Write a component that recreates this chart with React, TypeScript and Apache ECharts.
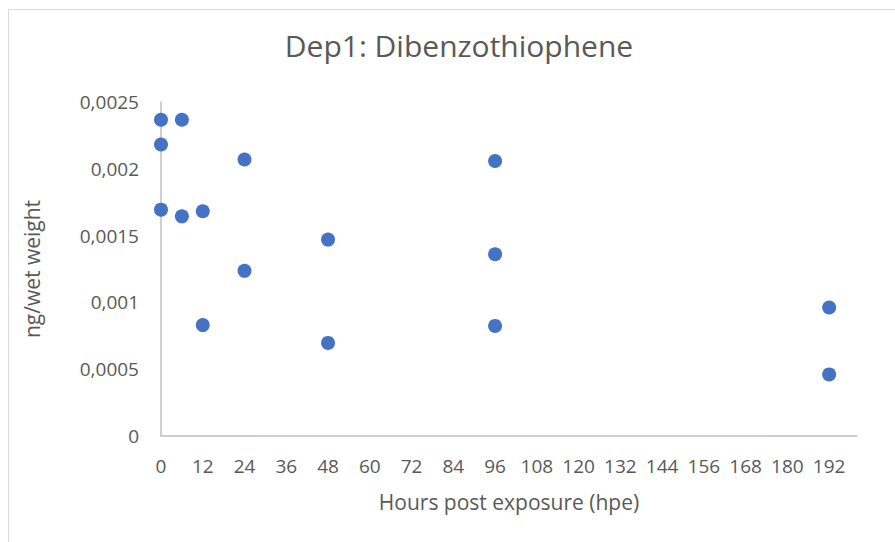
import React, { useEffect, useRef } from "react";
import * as echarts from "echarts";

const hours = [0, 0, 0, 6, 6, 12, 12, 24, 24, 48, 48, 96, 96, 96, 192, 192];
const values = [
  0.002367, 0.002182, 0.001694, 0.002367, 0.001644, 0.001682, 0.00083, 0.00207, 0.001236,
  0.00147, 0.000697, 0.002058, 0.00136, 0.000824, 0.000962, 0.000461,
];
const xTicks = [0, 12, 24, 36, 48, 60, 72, 84, 96, 108, 120, 132, 144, 156, 168, 180, 192];
const yTicks = [0, 0.0005, 0.001, 0.0015, 0.002, 0.0025];

const TITLE = "Dep1: Dibenzothiophene";
const X_NAME = "Hours post exposure (hpe)";
const Y_NAME = "ng/wet weight";

const FONT = "'Open Sans', sans-serif";
const TEXT = "#595959";

export default function App() {
  const ref = useRef<HTMLDivElement>(null);
  useEffect(() => {
    if (!ref.current) return;
    const chart = echarts.init(ref.current, null, { renderer: "svg" });
    const data = hours.map((h, i) => [h, values[i]]);
    chart.setOption({
      animation: false,
      backgroundColor: "#ffffff",
      textStyle: { fontFamily: FONT },
      title: {
        text: TITLE,
        left: 454,
        top: 25,
        textAlign: "center",
        textStyle: { fontFamily: FONT, fontSize: 30, fontWeight: "normal", color: TEXT },
      },
      graphic: [
        {
          type: "rect",
          shape: { x: 8.5, y: 9.5, width: 1000, height: 1000 },
          style: { fill: "none", stroke: "#d9d9d9", lineWidth: 1 },
          silent: true,
        },
      ],
      grid: { left: 161, right: 38, top: 102, bottom: 106, containLabel: false },
      xAxis: {
        type: "value",
        min: 0,
        max: 200,
        interval: 12,
        name: X_NAME,
        nameLocation: "middle",
        nameGap: 55,
        nameTextStyle: { fontFamily: FONT, fontSize: 21, color: TEXT },
        axisLine: { show: true, lineStyle: { color: "#bfbfbf", width: 1.5 } },
        axisTick: { show: false },
        splitLine: { show: false },
        axisLabel: {
          fontFamily: FONT,
          fontSize: 19,
          color: TEXT,
          margin: 20,
          showMaxLabel: false,
          formatter: (v: number) => (xTicks.includes(v) ? String(v) : ""),
        },
      },
      yAxis: {
        type: "value",
        min: 0,
        max: 0.0025,
        interval: 0.0005,
        name: Y_NAME,
        nameLocation: "middle",
        nameGap: 119,
        nameRotate: 90,
        nameTextStyle: { fontFamily: FONT, fontSize: 21, color: TEXT },
        axisLine: { show: true, lineStyle: { color: "#bfbfbf", width: 1.5 } },
        axisTick: { show: false },
        splitLine: { show: false },
        axisLabel: {
          fontFamily: FONT,
          fontSize: 19,
          color: TEXT,
          margin: 22,
          formatter: (v: number) => {
            const t = yTicks.find((y) => Math.abs(y - v) < 1e-9);
            if (t === undefined) return "";
            return String(Number(t.toFixed(4))).replace(".", ",");
          },
        },
      },
      series: [
        {
          type: "scatter",
          data,
          symbol: "circle",
          symbolSize: 14,
          itemStyle: { color: "#4472c4", opacity: 1 },
        },
      ],
    });
    return () => chart.dispose();
  }, []);
  return (
    <div
      ref={ref}
      style={{ position: "absolute", left: 0, top: 0, width: 895, height: 542 }}
    />
  );
}
